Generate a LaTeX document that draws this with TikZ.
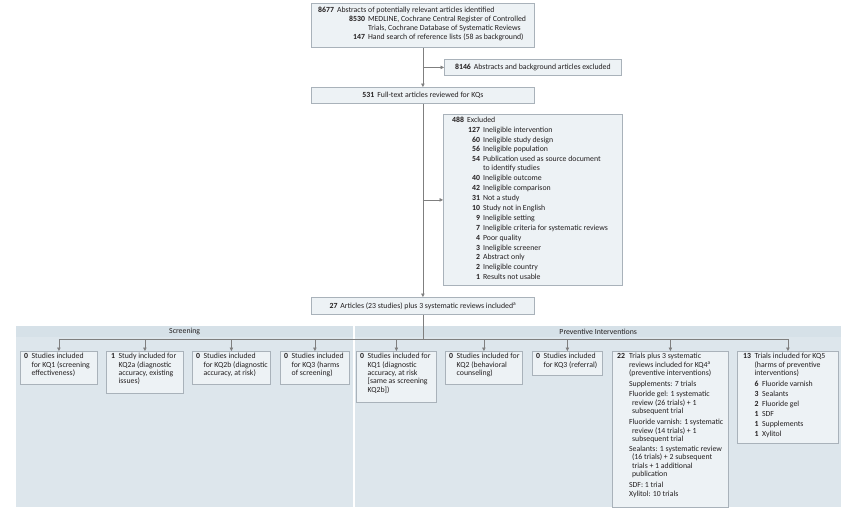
\documentclass[tikz,border=0pt]{standalone}
\usepackage{fontspec}
\setmainfont{Carlito}
\usetikzlibrary{arrows.meta}
\definecolor{boxfill}{HTML}{EDF2F5}
\definecolor{boxline}{HTML}{A9B2BA}
\definecolor{panelfill}{HTML}{DDE6EC}
\definecolor{headfill}{HTML}{D6E1E8}
\definecolor{conn}{HTML}{7F7F7F}
\definecolor{txt}{HTML}{231F20}
\newcommand\bx[6][]{\node[box,#1,minimum width={(#4-#2)*1pt},minimum height={(#5-#3)*1pt}] (#6) at (#2,#3)}
\begin{document}
\begin{tikzpicture}[x=1pt,y=-1pt,
  box/.style={draw=boxline,fill=boxfill,line width=0.8pt,inner sep=0pt,anchor=north west,text=txt,font=\fontsize{7.8}{9}\selectfont},
  txtn/.style={inner sep=0pt,anchor=north west,text=txt,font=\fontsize{7.8}{9}\selectfont},
  txts/.style={inner sep=0pt,anchor=north west,text=txt,font=\fontsize{7.8}{8.4}\selectfont},
  panel/.style={fill=panelfill,draw=none,inner sep=0pt,anchor=north west},
  head/.style={fill=headfill,draw=none,inner sep=0pt,anchor=north west,text=txt,font=\fontsize{7.8}{9}\selectfont},
  line/.style={draw=conn,line width=0.6pt},
  arr/.style={line,-{Triangle[length=3.5pt,width=3.5pt]}}]
\useasboundingbox (0,0) rectangle (850,514);
\fill[white] (0,0) rectangle (850,514);
% panels
\node[panel,minimum width=337pt,minimum height=181pt] (scrP) at (16,326) {};
\node[panel,minimum width=486pt,minimum height=181pt] (prevP) at (355,326) {};
\node[head,minimum width=337pt,minimum height=11pt] (scrH) at (16,326) {Screening};
\node[head,minimum width=486pt,minimum height=11pt] (prevH) at (355,326) {Preventive Interventions};
% top boxes
\bx{311}{3}{534}{47}{top} {};
\node[txtn] (topT) at ([shift={(7,2.7)}]top.north west) {%
\begin{tabular}{@{\hspace{31pt}}r@{\hspace{3pt}}l@{}}
\multicolumn{2}{@{}l@{}}{\textbf{8677}\hspace{3pt}Abstracts of potentially relevant articles identified}\\
\textbf{8530} & MEDLINE, Cochrane Central Register of Controlled\\
 & Trials, Cochrane Database of Systematic Reviews\\
\textbf{147} & Hand search of reference lists (58 as background)
\end{tabular}};
\bx{444}{59}{621}{75}{n8146} {\textbf{8146}\hspace{3pt}Abstracts and background articles excluded};
\bx{311}{87}{534}{103}{n531} {\textbf{531}\hspace{3pt}Full-text articles reviewed for KQs};
\bx{443}{114}{622}{285}{n488} {};
\node[txtn] (n488T) at ([shift={(9,1.7)}]n488.north west) {%
\begin{tabular}{@{\hspace{16pt}}r@{\hspace{3pt}}l@{}}
\multicolumn{2}{@{}l@{}}{\textbf{488}\hspace{3pt}Excluded}\\[0.9pt]
\textbf{127} & Ineligible intervention\\[0.9pt]
\textbf{60} & Ineligible study design\\[0.9pt]
\textbf{56} & Ineligible population\\[0.9pt]
\textbf{54} & Publication used as source document\\
 & to identify studies\\[0.9pt]
\textbf{40} & Ineligible outcome\\[0.9pt]
\textbf{42} & Ineligible comparison\\[0.9pt]
\textbf{31} & Not a study\\[0.9pt]
\textbf{10} & Study not in English\\[0.9pt]
\textbf{9} & Ineligible setting\\[0.9pt]
\textbf{7} & Ineligible criteria for systematic reviews\\[0.9pt]
\textbf{4} & Poor quality\\[0.9pt]
\textbf{3} & Ineligible screener\\[0.9pt]
\textbf{2} & Abstract only\\[0.9pt]
\textbf{2} & Ineligible country\\[0.9pt]
\textbf{1} & Results not usable
\end{tabular}};
\bx{311}{297}{534}{314}{n27} {\textbf{27}\hspace{3pt}Articles (23 studies) plus 3 systematic reviews included\textsuperscript{a}};
% bottom boxes
\bx{20}{351}{97}{384}{b1} {};
\node[txts] (b1T) at ([shift={(4,1.6)}]b1.north west) {\begin{tabular}{@{}l@{\hspace{3.5pt}}l@{}}
\textbf{0} & Studies included\\ & for KQ1 (screening\\ & effectiveness)\end{tabular}};
\bx{106}{351}{183}{393}{b2} {};
\node[txts] (b2T) at ([shift={(5,1.6)}]b2.north west) {\begin{tabular}{@{}l@{\hspace{3.5pt}}l@{}}
\textbf{1} & Study included for\\ & KQ2a (diagnostic\\ & accuracy, existing\\ & issues)\end{tabular}};
\bx{192}{351}{270}{384}{b3} {};
\node[txts] (b3T) at ([shift={(4,1.6)}]b3.north west) {\begin{tabular}{@{}l@{\hspace{3.5pt}}l@{}}
\textbf{0} & Studies included\\ & for KQ2b (diagnostic\\ & accuracy, at risk)\end{tabular}};
\bx{280}{351}{349}{384}{b4} {};
\node[txts] (b4T) at ([shift={(4,1.6)}]b4.north west) {\begin{tabular}{@{}l@{\hspace{3.5pt}}l@{}}
\textbf{0} & Studies included\\ & for KQ3 (harms\\ & of screening)\end{tabular}};
\bx{356}{351}{436}{402}{b5} {};
\node[txts] (b5T) at ([shift={(4,1.6)}]b5.north west) {\begin{tabular}{@{}l@{\hspace{3.5pt}}l@{}}
\textbf{0} & Studies included for\\ & KQ1 (diagnostic\\ & accuracy, at risk\\ & [same as screening\\ & KQ2b])\end{tabular}};
\bx{445}{351}{522}{384}{b6} {};
\node[txts] (b6T) at ([shift={(4,1.6)}]b6.north west) {\begin{tabular}{@{}l@{\hspace{3.5pt}}l@{}}
\textbf{0} & Studies included for\\ & KQ2 (behavioral\\ & counseling)\end{tabular}};
\bx{532}{351}{602}{375}{b7} {};
\node[txts] (b7T) at ([shift={(4,1.6)}]b7.north west) {\begin{tabular}{@{}l@{\hspace{3.5pt}}l@{}}
\textbf{0} & Studies included\\ & for KQ3 (referral)\end{tabular}};
\bx{612}{351}{728}{507}{b8} {};
\node[txts] (b8T) at ([shift={(5,1.6)}]b8.north west) {\begin{tabular}{@{}l@{\hspace{4pt}}l@{}}
\textbf{22} & Trials plus 3 systematic\\
 & reviews included for KQ4\textsuperscript{a}\\
 & (preventive interventions)\\[3pt]
 & Supplements: 7 trials\\[1.6pt]
 & Fluoride gel: 1 systematic\\
 & \hspace{3pt}review (26 trials) + 1\\
 & \hspace{3pt}subsequent trial\\[2.6pt]
 & Fluoride varnish: 1 systematic\\
 & \hspace{3pt}review (14 trials) + 1\\
 & \hspace{3pt}subsequent trial\\[1.6pt]
 & Sealants: 1 systematic review\\
 & \hspace{3pt}(16 trials) + 2 subsequent\\
 & \hspace{3pt}trials + 1 additional\\
 & \hspace{3pt}publication\\[2.6pt]
 & SDF: 1 trial\\[0.6pt]
 & Xylitol: 10 trials
\end{tabular}};
\bx{737}{351}{838}{443}{b9} {};
\node[txts] (b9T) at ([shift={(6,1.6)}]b9.north west) {\begin{tabular}{@{}l@{\hspace{3.5pt}}l@{}}
\textbf{13} & Trials included for KQ5\\
 & (harms of preventive\\
 & interventions)\\[3pt]
 & \makebox[7.5pt][l]{\textbf{6}}Fluoride varnish\\[1.6pt]
 & \makebox[7.5pt][l]{\textbf{3}}Sealants\\[1.6pt]
 & \makebox[7.5pt][l]{\textbf{2}}Fluoride gel\\[1.6pt]
 & \makebox[7.5pt][l]{\textbf{1}}SDF\\[1.6pt]
 & \makebox[7.5pt][l]{\textbf{1}}Supplements\\[1.6pt]
 & \makebox[7.5pt][l]{\textbf{1}}Xylitol
\end{tabular}};
% connectors
\coordinate (bus) at (0,339);
\draw[arr] (top.south) -- (n531.north);
\draw[arr] (top.south |- n8146.west) -- (n8146.west);
\draw[arr] (n531.south) -- (n27.north);
\draw[arr] (n531.south |- n488.west) -- (n488.west);
\draw[line] (n27.south) -- (n27.south |- bus);
\draw[line] (b1.north |- bus) -- (b9.north |- bus);
\foreach \b in {b1,b2,b3,b4,b5,b6,b7,b8,b9} \draw[arr] (\b.north |- bus) -- (\b.north);
\end{tikzpicture}
\end{document}
